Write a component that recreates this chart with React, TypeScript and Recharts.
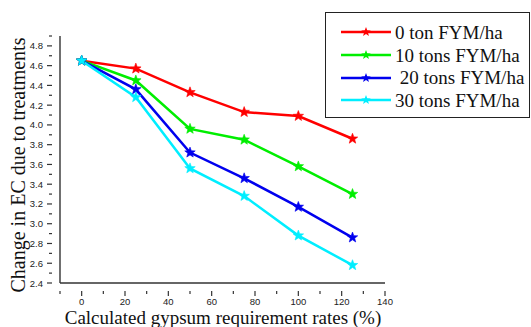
import { LineChart, Line, XAxis, YAxis, Legend } from 'recharts'

const rates = [0, 25, 50, 75, 100, 125]
const fym0 = [4.65, 4.57, 4.33, 4.13, 4.09, 3.86]
const fym10 = [4.65, 4.45, 3.96, 3.85, 3.58, 3.3]
const fym20 = [4.65, 4.36, 3.72, 3.46, 3.17, 2.86]
const fym30 = [4.65, 4.28, 3.56, 3.28, 2.88, 2.58]

const xTicks = [-10, 0, 10, 20, 30, 40, 50, 60, 70, 80, 90, 100, 110, 120, 130, 140]
const yTicks = [2.4, 2.5, 2.6, 2.7, 2.8, 2.9, 3.0, 3.1, 3.2, 3.3, 3.4, 3.5, 3.6, 3.7, 3.8, 3.9, 4.0, 4.1, 4.2, 4.3, 4.4, 4.5, 4.6, 4.7, 4.8, 4.9]

const series = [
  { key: 'a', name: '0 ton FYM/ha', color: '#ff0000', values: fym0 },
  { key: 'b', name: '10 tons FYM/ha', color: '#00ee00', values: fym10 },
  { key: 'c', name: ' 20 tons FYM/ha', color: '#0000ee', values: fym20 },
  { key: 'd', name: '30 tons FYM/ha', color: '#00eeff', values: fym30 },
]

const data = rates.map((r, i) => {
  const row: Record<string, number> = { rate: r }
  series.forEach((s) => (row[s.key] = s.values[i]))
  return row
})

const serif = '"Liberation Serif", "Times New Roman", serif'
const sans = '"Liberation Sans", Arial, sans-serif'
const axisColor = '#333'

function starPoints(cx: number, cy: number, R: number) {
  const r = R * 0.42
  const pts: string[] = []
  for (let i = 0; i < 10; i++) {
    const a = -Math.PI / 2 + (i * Math.PI) / 5
    const rad = i % 2 === 0 ? R : r
    pts.push(`${cx + rad * Math.cos(a)},${cy + rad * Math.sin(a)}`)
  }
  return pts.join(' ')
}

const starDot = (color: string) => (props: any) => {
  const { cx, cy, index } = props
  if (cx == null || cy == null) return <g key={index} />
  return <polygon key={index} points={starPoints(cx, cy, 5.5)} fill={color} stroke={color} strokeWidth={0.6} />
}

const XTick = (props: any) => {
  const { x, y, payload } = props
  const v = payload.value
  const major = v % 20 === 0
  return (
    <g>
      <line x1={x} x2={x} y1={y} y2={y + (major ? 5 : 3)} stroke={axisColor} strokeWidth={1.2} />
      {major && (
        <text x={x} y={y + 14} textAnchor="middle" fontSize={9.5} fontFamily={sans} fill="#222">
          {v}
        </text>
      )}
    </g>
  )
}

const YTick = (props: any) => {
  const { x, y, payload } = props
  const v = payload.value
  const tenths = Math.round(v * 10)
  const major = tenths % 2 === 0 && tenths <= 48
  return (
    <g>
      <line x1={x} x2={x - (major ? 5 : 3)} y1={y} y2={y} stroke={axisColor} strokeWidth={1.2} />
      {major && (
        <text x={x - 9} y={y + 3.5} textAnchor="end" fontSize={9.5} fontFamily={sans} fill="#222">
          {v.toFixed(1)}
        </text>
      )}
    </g>
  )
}

function LegendBox() {
  return (
    <div
      style={{
        width: 205,
        height: 106,
        border: '1px solid #222',
        background: '#fff',
        fontFamily: serif,
        fontSize: 19,
        color: '#111',
        boxSizing: 'border-box',
        paddingTop: 8,
        lineHeight: 1,
      }}
    >
      {series.map((s) => (
        <div key={s.key} style={{ display: 'flex', alignItems: 'center', height: 22.7 }}>
          <svg width={69} height={14} style={{ flex: 'none' }}>
            <line x1={15} x2={65} y1={7} y2={7} stroke={s.color} strokeWidth={2.5} />
            <polygon points={starPoints(40, 7, 5)} fill={s.color} />
          </svg>
          <span style={{ whiteSpace: 'pre' }}>{s.name}</span>
        </div>
      ))}
    </div>
  )
}

export default function App() {
  return (
    <div style={{ position: 'absolute', left: 0, top: 0, width: 531, height: 327, background: '#fff' }}>
      <LineChart width={531} height={327} data={data} margin={{ top: 36, right: 146, bottom: 0, left: 0 }}>
        <XAxis
          dataKey="rate"
          type="number"
          domain={[-10, 140]}
          ticks={xTicks}
          interval={0}
          tickLine={false}
          tick={<XTick />}
          height={44}
          stroke={axisColor}
          strokeWidth={1.4}
        />
        <YAxis
          type="number"
          domain={[2.4, 4.9]}
          ticks={yTicks}
          interval={0}
          tickLine={false}
          tick={<YTick />}
          width={60}
          stroke={axisColor}
          strokeWidth={1.4}
        />
        <Legend
          layout="vertical"
          align="center"
          verticalAlign="middle"
          content={() => <LegendBox />}
          wrapperStyle={{ position: 'absolute', left: 325, top: 12, width: 205, height: 106 }}
        />
        {series.map((s) => (
          <Line
            key={s.key}
            dataKey={s.key}
            name={s.name}
            stroke={s.color}
            strokeWidth={2.5}
            dot={starDot(s.color)}
            activeDot={false}
            isAnimationActive={false}
          />
        ))}
      </LineChart>
      <div
        style={{
          position: 'absolute',
          left: 18,
          top: 165,
          transform: 'translate(-50%, -50%) rotate(-90deg)',
          whiteSpace: 'nowrap',
          fontFamily: serif,
          fontSize: 20,
          lineHeight: 1,
          color: '#111',
        }}
      >
        Change in EC due to treatments
      </div>
      <div
        style={{
          position: 'absolute',
          left: 223,
          top: 317,
          transform: 'translate(-50%, -50%)',
          whiteSpace: 'nowrap',
          fontFamily: serif,
          fontSize: 19,
          lineHeight: 1,
          color: '#111',
        }}
      >
        Calculated gypsum requirement rates (%)
      </div>
    </div>
  )
}
